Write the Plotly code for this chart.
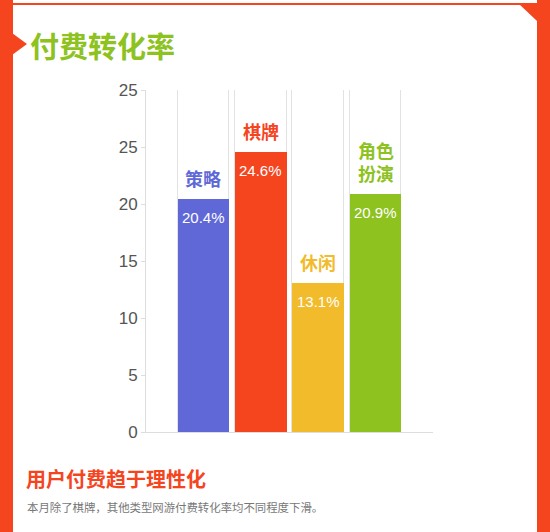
import plotly.graph_objects as go

# ----- data -----
categories = ["策略", "棋牌", "休闲", "角色<br>扮演"]
rates = [20.4, 24.6, 13.1, 20.9]
bar_colors = ["#6068d8", "#f5451f", "#f2bb2b", "#8dc21f"]
y_ticks = [0, 5, 10, 15, 20, 25, 30]
y_tick_text = ["0", "5", "10", "15", "20", "25", "25"]   # top label really says 25 in the source
full_scale = 30

W, H = 550, 532
L, R, T, B = 146, 433, 90, 432   # plot area in pixels
ORANGE = "#f5451f"


def px(x):
    return (x - L) / (R - L)


def py(y):
    return (B - y) / (B - T)


xs = list(range(len(categories)))

fig = go.Figure()

# white "track" behind every bar
fig.add_trace(go.Bar(
    x=xs, y=[full_scale] * len(xs), width=0.9,
    marker=dict(color="white", line=dict(color="#e2e2e2", width=1)),
    hoverinfo="skip", showlegend=False
))

# the real values
fig.add_trace(go.Bar(
    x=xs, y=rates, width=0.9,
    marker=dict(color=bar_colors, line=dict(width=0)),
    showlegend=False
))

# category name above each bar, percentage inside
for i, (name, v, c) in enumerate(zip(categories, rates, bar_colors)):
    fig.add_annotation(x=i, y=v, text=f"<b>{name}</b>", showarrow=False,
                       yanchor="bottom", yshift=6,
                       font=dict(size=18, color=c, family="Noto Sans CJK SC"))
    fig.add_annotation(x=i, y=v, text=f"{v}%", showarrow=False,
                       yanchor="top", yshift=-8,
                       font=dict(size=15, color="white", family="Liberation Sans"))

# orange frame
shapes = [
    dict(type="rect", x0=px(0), x1=px(13), y0=py(0), y1=py(H)),
    dict(type="rect", x0=px(537), x1=px(W), y0=py(0), y1=py(H)),
    dict(type="rect", x0=px(13), x1=px(537), y0=py(3), y1=py(5)),
    dict(type="path", path=f"M {px(519)},{py(4)} L {px(537)},{py(4)} L {px(537)},{py(21)} Z"),
    dict(type="path", path=f"M {px(12)},{py(33)} L {px(27)},{py(44)} L {px(12)},{py(55)} Z"),
]
for s in shapes:
    s.update(xref="paper", yref="paper", fillcolor=ORANGE, line=dict(width=0), layer="above")
fig.update_layout(shapes=shapes)

# headings
fig.add_annotation(xref="paper", yref="paper", x=px(28), y=py(45), xanchor="left",
                   yanchor="middle", showarrow=False, text="<b>付费转化率</b>",
                   font=dict(size=29, color="#8dc21f", family="Noto Sans CJK SC"))
fig.add_annotation(xref="paper", yref="paper", x=px(24), y=py(478), xanchor="left",
                   yanchor="middle", showarrow=False, text="<b>用户付费趋于理性化</b>",
                   font=dict(size=20, color=ORANGE, family="Noto Sans CJK SC"))
fig.add_annotation(xref="paper", yref="paper", x=px(25), y=py(507), xanchor="left",
                   yanchor="middle", showarrow=False,
                   text="本月除了棋牌，其他类型网游付费转化率均不同程度下滑。",
                   font=dict(size=11.4, color="#777777", family="Noto Sans CJK SC"))

fig.update_layout(
    width=W, height=H,
    margin=dict(l=L, r=W - R, t=T, b=H - B, pad=0),
    paper_bgcolor="white", plot_bgcolor="white",
    barmode="overlay", bargap=0,
    xaxis=dict(range=[-1, 4], showticklabels=False, ticks="", showgrid=False,
               zeroline=False, showline=True, linecolor="#dddddd", linewidth=1, fixedrange=True),
    yaxis=dict(range=[0, full_scale], tickvals=y_ticks, ticktext=y_tick_text,
               ticks="outside", ticklen=4, tickcolor="#dddddd", showgrid=False,
               zeroline=False, showline=True, linecolor="#dddddd", linewidth=1,
               tickfont=dict(size=17, color="#555555", family="Liberation Sans"), fixedrange=True),
)

# page has a default 8px body margin which pushes the figure off the window
fig.write_html("out.html", config={"displayModeBar": False},
               post_script="document.body.style.margin='0';")
